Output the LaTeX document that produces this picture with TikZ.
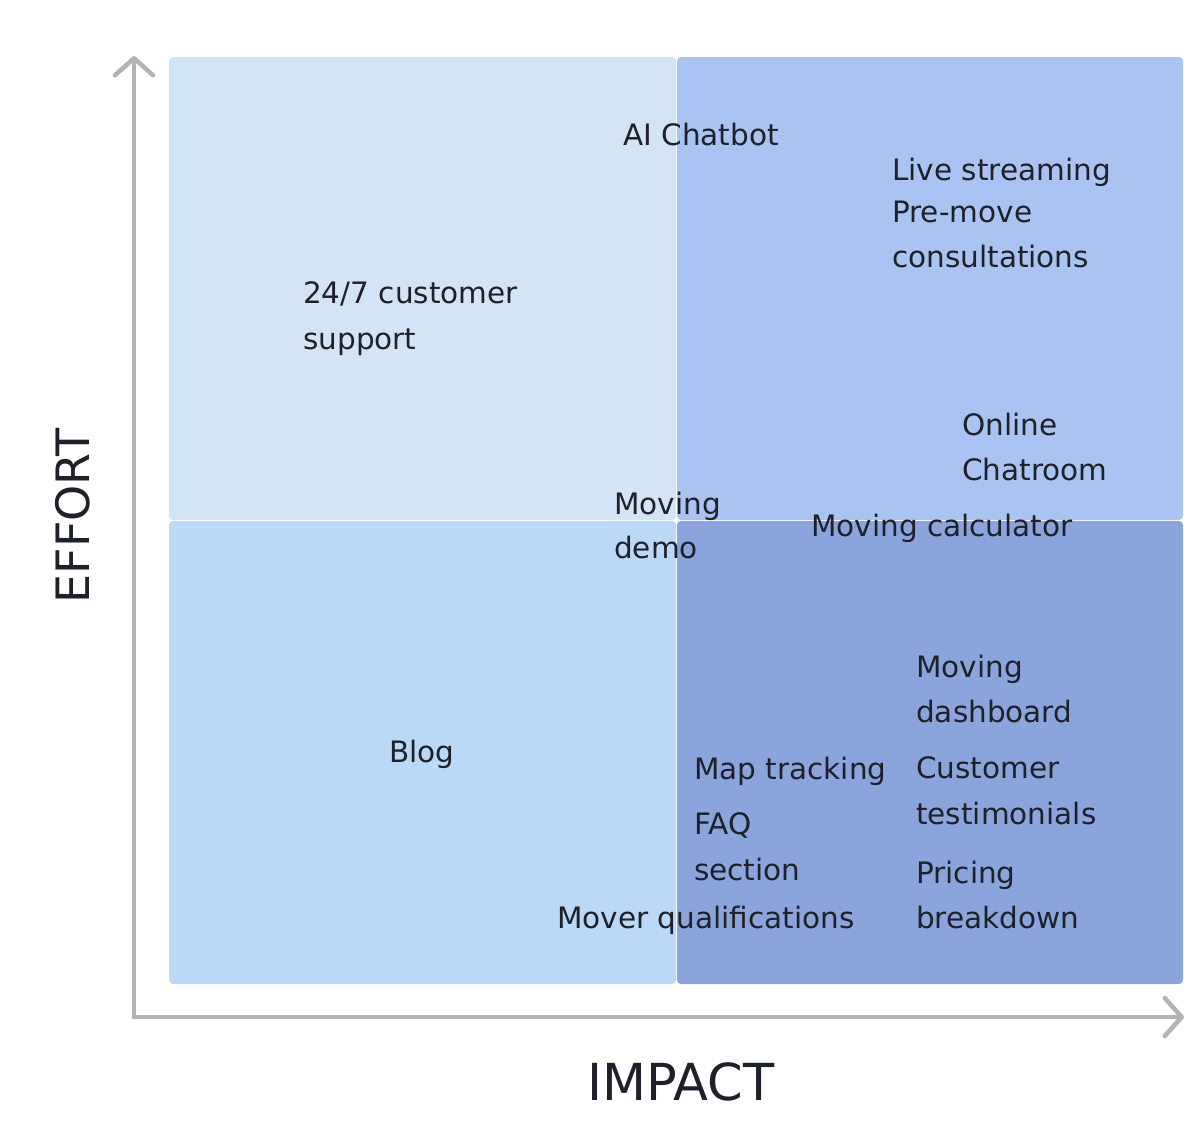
\documentclass[tikz,border=0pt]{standalone}
\usepackage{fontspec}
\setmainfont{DejaVu Sans}
\usetikzlibrary{arrows.meta}
\definecolor{qTL}{HTML}{D4E4F7}
\definecolor{qTR}{HTML}{ABC3F2}
\definecolor{qBL}{HTML}{BCD8F7}
\definecolor{qBR}{HTML}{8BA5DC}
\definecolor{axisgray}{HTML}{B3B3B3}
\definecolor{txt}{HTML}{1E2129}
\tikzset{
  quad/.style={rounded corners=4pt},
  lbl/.style={anchor=mid west, inner sep=0pt, text=txt, font=\fontsize{29.5}{34}\selectfont},
  axislbl/.style={inner sep=0pt, text=txt},
  axisline/.style={draw=axisgray, line width=4.5pt, line cap=round, line join=round,
    -{Straight Barb[length=17pt,width=38pt,line width=4.5pt,round]}}
}
\begin{document}
\begin{tikzpicture}[x=1pt,y=-1pt]
\useasboundingbox (0,0) rectangle (1188,1136);
% quadrants
\fill[qTL,quad] (169,57) rectangle (676,520);
\fill[qTR,quad] (677,57) rectangle (1183,520);
\fill[qBL,quad] (169,521) rectangle (676,984);
\fill[qBR,quad] (677,521) rectangle (1183,984);
% axes
\coordinate (origin) at (134,1017);
\coordinate (ytip) at (134,56);
\coordinate (xtip) at (1184,1017);
\draw[axisline] (origin) -- (ytip);
\draw[axisline] (origin) -- (xtip);
% axis labels
\node[axislbl, rotate=90, font=\fontsize{46}{56}\selectfont] (effort) at (73,516) {EFFORT};
\node[axislbl, font=\fontsize{51}{60}\selectfont] (impact) at (681,1082) {IMPACT};
% labels
\node[lbl] (aichat) at (623,143) {AI Chatbot};
\node[lbl] (live) at (892,178) {Live streaming};
\node[lbl] (premove1) at (892,220) {Pre-move};
\node[lbl] (premove2) at (892,265) {consultations};
\node[lbl] (support1) at (303,301) {24/7 customer};
\node[lbl] (support2) at (303,347) {support};
\node[lbl] (online1) at (962,433) {Online};
\node[lbl] (online2) at (962,478) {Chatroom};
\node[lbl] (demo1) at (614,512) {Moving};
\node[lbl] (demo2) at (614,556) {demo};
\node[lbl] (calc) at (811,534) {Moving calculator};
\node[lbl] (dash1) at (916,675) {Moving};
\node[lbl] (dash2) at (916,720) {dashboard};
\node[lbl] (blog) at (389,760) {Blog};
\node[lbl] (map) at (694,777) {Map tracking};
\node[lbl] (cust1) at (916,776) {Customer};
\node[lbl] (cust2) at (916,822) {testimonials};
\node[lbl] (faq1) at (694,832) {FAQ};
\node[lbl] (faq2) at (694,878) {section};
\node[lbl] (price1) at (916,881) {Pricing};
\node[lbl] (price2) at (916,926) {breakdown};
\node[lbl] (mover) at (557,926) {Mover qualifications};
\end{tikzpicture}
\end{document}
